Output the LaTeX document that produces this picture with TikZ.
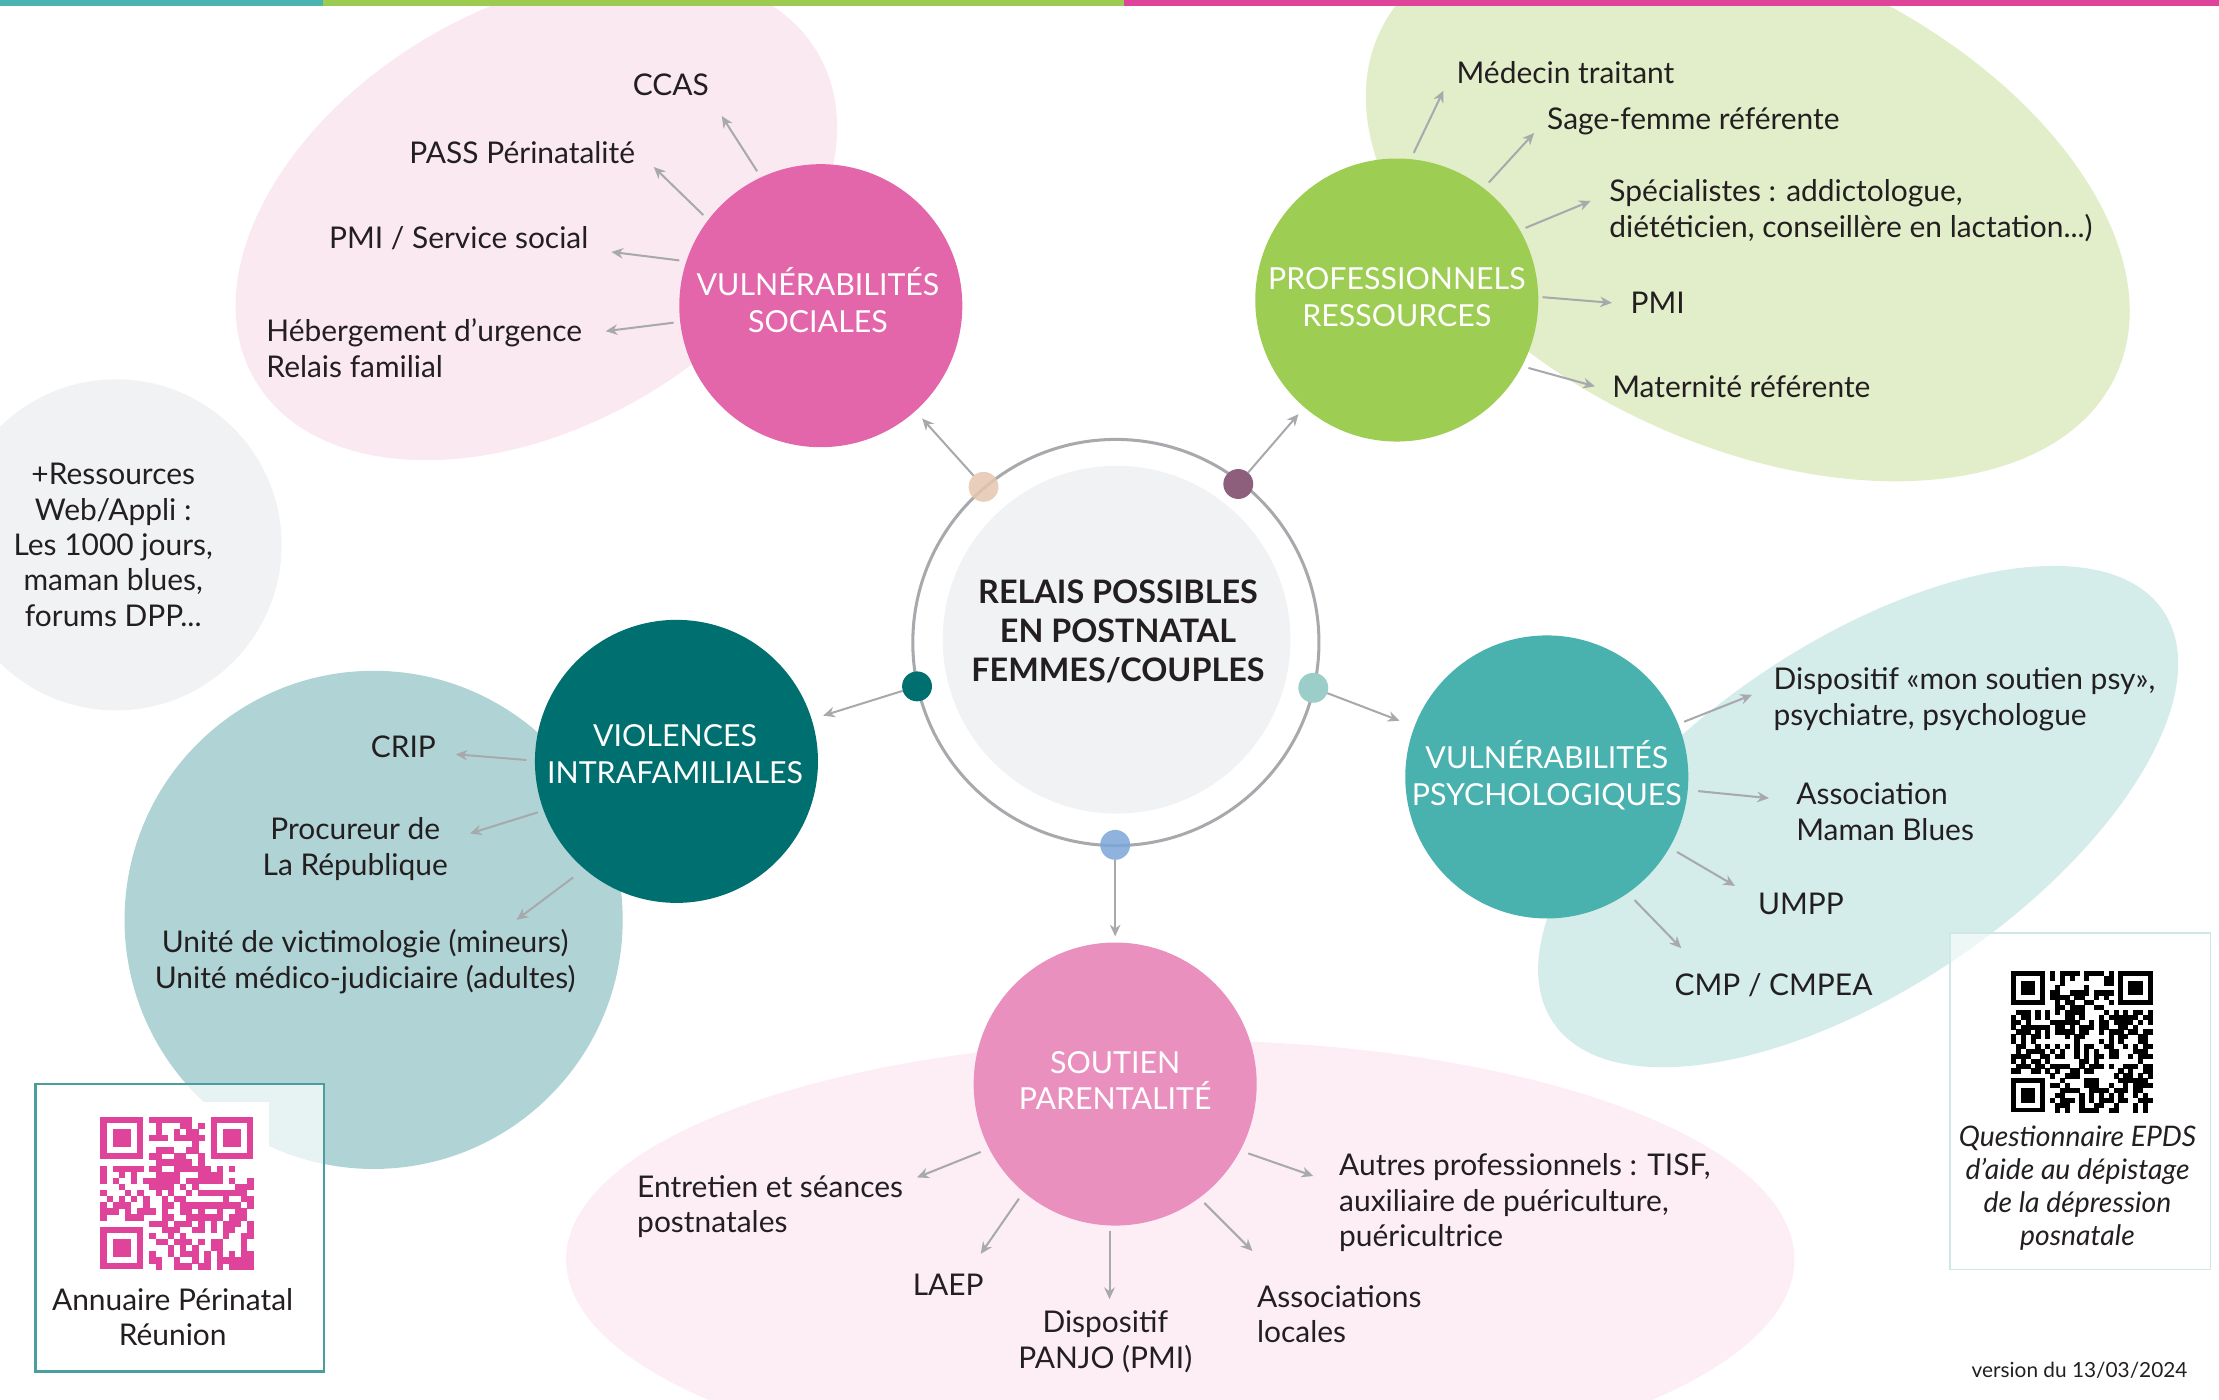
\documentclass[tikz,border=0pt]{standalone}
\usepackage{fontspec}
\setmainfont{Lato}
\usetikzlibrary{arrows.meta}
\definecolor{txt}{HTML}{231F20}
\definecolor{barteal}{HTML}{4BB3B0}
\definecolor{bargreen}{HTML}{9DCB52}
\definecolor{barpink}{HTML}{E0449A}
\definecolor{csoc}{HTML}{E466AA}
\definecolor{cprof}{HTML}{9DCD52}
\definecolor{cviol}{HTML}{006F70}
\definecolor{cpsy}{HTML}{4AB2AE}
\definecolor{csout}{HTML}{E990BE}
\definecolor{blobsoc}{HTML}{FBE9F1}
\definecolor{blobprof}{HTML}{E1EEC9}
\definecolor{blobgrey}{HTML}{F1F2F3}
\definecolor{blobviol}{HTML}{B0D4D5}
\definecolor{blobpsy}{HTML}{D4ECEA}
\definecolor{blobsout}{HTML}{FDEEF5}
\definecolor{ringgrey}{HTML}{A7A9AC}
\definecolor{innergrey}{HTML}{F1F2F4}
\definecolor{dpeach}{HTML}{E5C6B0}
\definecolor{dpurple}{HTML}{8E5F7C}
\definecolor{dlteal}{HTML}{9BCDC9}
\definecolor{dblue}{HTML}{7BA6D8}
\definecolor{qrborder}{HTML}{4B9E9E}
\definecolor{qrborderb}{HTML}{CDE8E6}
\newcommand\myqr[6]{%
  \begin{scope}[shift={(#1,#2)}]
    \pgfmathsetseed{#6}
    \pgfmathtruncatemacro\qrmax{#4-1}
    \pgfmathtruncatemacro\qrlim{#4-9}
    \pgfmathtruncatemacro\qrf{#4-7}
    \foreach \i in {0,...,\qrmax}{
      \foreach \j in {0,...,\qrmax}{
        \pgfmathtruncatemacro\qrskip{((\i<8)&&(\j<8))||((\i>\qrlim)&&(\j<8))||((\i<8)&&(\j>\qrlim))}
        \pgfmathrandominteger{\qrr}{0}{99}
        \ifnum\qrskip=0 \ifnum\qrr<52
          \fill[#5] ({\i*#3},{\j*#3}) rectangle ++({#3+0.2},{#3+0.2});
        \fi\fi
      }
    }
    \foreach \cx/\cy in {0/0,\qrf/0,0/\qrf}{
      \fill[#5] ({\cx*#3},{\cy*#3}) rectangle ++({7*#3},{7*#3});
      \fill[white] ({(\cx+1)*#3},{(\cy+1)*#3}) rectangle ++({5*#3},{5*#3});
      \fill[#5] ({(\cx+2)*#3},{(\cy+2)*#3}) rectangle ++({3*#3},{3*#3});
    }
  \end{scope}}
\tikzset{
  lbl/.style={text=txt, font=\fontsize{14.8}{17.5}\selectfont, align=left, inner sep=0pt},
  clbl/.style={lbl, align=center},
  circ/.style={circle, minimum size=140pt, inner sep=0pt, outer sep=0pt},
  circtext/.style={text=white, align=center, inner sep=0pt, font=\fontsize{15}{18.2}\selectfont},
  dotn/.style={circle, minimum size=14.8pt, inner sep=0pt, outer sep=0pt},
  arr/.style={draw=ringgrey, line width=1pt, -{Stealth[length=5.8pt,width=5.2pt]}},
}
\begin{document}
\begin{tikzpicture}[x=0.7pt,y=-0.7pt]
\useasboundingbox (0,0) rectangle (1568,989);
\begin{scope}
  \clip (0,0) rectangle (1568,989);
  \fill[blobsoc, rotate around={30:(379,153)}] (379,153) ellipse [x radius=230, y radius=148];
  \fill[blobprof, rotate around={-25:(1235,144)}] (1235,144) ellipse [x radius=287, y radius=170];
  \fill[blobgrey] (82,385) circle [radius=117];
  \fill[blobviol] (264,650) circle [radius=176];
  \fill[blobpsy, rotate around={34:(1313,577)}] (1313,577) ellipse [x radius=260, y radius=122];
  \fill[blobsout] (834,890) ellipse [x radius=434, y radius=155];
\end{scope}
% top bar
\fill[barteal] (0,0) rectangle (228,4);
\fill[bargreen] (228,0) rectangle (794,4);
\fill[barpink] (794,0) rectangle (1568,4);

% central ring
\draw[ringgrey, line width=1.5pt] (788.5,454) circle [radius=143.5];
\node[circle, fill=innergrey, minimum size=172pt, inner sep=0pt] (ctr) at (789,452) {};
\node[text=txt, align=center, font=\fontsize{16}{19.2}\selectfont\bfseries, inner sep=0pt] (ctrtxt) at (790,446)
  {RELAIS POSSIBLES\\EN POSTNATAL\\FEMMES/COUPLES};

% dots
\node[dotn, fill=dpeach, fill opacity=0.85] (dP) at (695,344) {};
\node[dotn, fill=dpurple] (dU) at (875,342) {};
\node[dotn, fill=cviol] (dT) at (648,485) {};
\node[dotn, fill=dlteal] (dL) at (928,486) {};
\node[dotn, fill=dblue, fill opacity=0.85] (dB) at (788,597) {};

% main circles
\node[circ, fill=csoc] (soc) at (580,216) {};
\node[circ, fill=cprof] (prof) at (987,212) {};
\node[circ, fill=cviol] (viol) at (478,538) {};
\node[circ, fill=cpsy] (psy) at (1093,549) {};
\node[circ, fill=csout] (sout) at (788,766) {};
\node[circtext] (soct) at (578,212) {VULNÉRABILITÉS\\SOCIALES};
\node[circtext] (proft) at (987,210) {PROFESSIONNELS\\RESSOURCES};
\node[circtext] (violt) at (477,533) {VIOLENCES\\INTRAFAMILIALES};
\node[circtext] (psyt) at (1093,548) {VULNÉRABILITÉS\\PSYCHOLOGIQUES};
\node[circtext] (soutt) at (788,763.5) {SOUTIEN\\PARENTALITÉ};

% arrows from centre dots
\draw[arr, shorten >=5pt] (dP) -- (soc);
\draw[arr, shorten >=4.5pt] (dU) -- (prof);
\draw[arr, shorten >=6pt] (dT) -- (viol);
\draw[arr, shorten >=8pt] (dL) -- (psy);
\draw[arr, shorten >=3pt] (dB) -- (sout);

% grey resources circle
\node[clbl] (res) at (80,385) {+Ressources\\Web/Appli :\\Les 1000 jours,\\maman blues,\\forums DPP...};

% social labels
\node[clbl] (ccas) at (474,60) {CCAS};
\node[lbl, anchor=east] (pass) at (449,108) {PASS Périnatalité};
\node[lbl, anchor=east] (pmis) at (416,168) {PMI / Service social};
\node[lbl, anchor=west] (heb) at (188,246) {Hébergement d’urgence\\Relais familial};
\coordinate (s1a) at (535,121); \coordinate (s1b) at (510,82);
\coordinate (s2a) at (497,152); \coordinate (s2b) at (462,118);
\coordinate (s3a) at (480,184); \coordinate (s3b) at (432,178);
\coordinate (s4a) at (476,228); \coordinate (s4b) at (428,234);
\draw[arr] (s1a) -- (s1b);
\draw[arr] (s2a) -- (s2b);
\draw[arr] (s3a) -- (s3b);
\draw[arr] (s4a) -- (s4b);

% professionnels labels
\node[lbl, anchor=west] (med) at (1029,51) {Médecin traitant};
\node[lbl, anchor=west] (sage) at (1093,86) {Sage-femme référente};
\node[lbl, anchor=west] (spec) at (1137,149) {Spécialistes : addictologue,\\diététicien, conseillère en lactation...)};
\node[lbl, anchor=west] (pmip) at (1152,214) {PMI};
\node[lbl, anchor=west] (mat) at (1139,273) {Maternité référente};
\coordinate (p1a) at (999,108); \coordinate (p1b) at (1020,64);
\coordinate (p2a) at (1052,129); \coordinate (p2b) at (1084,94);
\coordinate (p3a) at (1078,161); \coordinate (p3b) at (1124,142);
\coordinate (p4a) at (1090,210); \coordinate (p4b) at (1139,214);
\coordinate (p5a) at (1080,260); \coordinate (p5b) at (1127,273);
\draw[arr] (p1a) -- (p1b);
\draw[arr] (p2a) -- (p2b);
\draw[arr] (p3a) -- (p3b);
\draw[arr] (p4a) -- (p4b);
\draw[arr] (p5a) -- (p5b);

% violences labels
\node[clbl] (crip) at (285,528) {CRIP};
\node[clbl] (proc) at (251,600) {Procureur de\\La République};
\node[clbl] (unite) at (258,679.5) {Unité de victimologie (mineurs)\\Unité médico-judiciaire (adultes)};
\coordinate (v1a) at (372,537); \coordinate (v1b) at (322,533);
\coordinate (v2a) at (380,574); \coordinate (v2b) at (332,589);
\coordinate (v3a) at (405,620); \coordinate (v3b) at (365,650);
\draw[arr] (v1a) -- (v1b);
\draw[arr] (v2a) -- (v2b);
\draw[arr] (v3a) -- (v3b);

% psycho labels
\node[lbl, anchor=west] (disp) at (1253,494) {Dispositif «mon soutien psy»,\\psychiatre, psychologue};
\node[lbl, anchor=west] (assoc) at (1269,573.5) {Association\\Maman Blues};
\node[lbl, anchor=west] (umpp) at (1242,639) {UMPP};
\node[lbl, anchor=west] (cmp) at (1183,696) {CMP / CMPEA};
\coordinate (y1a) at (1190,510); \coordinate (y1b) at (1238,491);
\coordinate (y2a) at (1200,559); \coordinate (y2b) at (1250,564);
\coordinate (y3a) at (1185,602); \coordinate (y3b) at (1226,626);
\coordinate (y4a) at (1155,636); \coordinate (y4b) at (1188,670);
\draw[arr] (y1a) -- (y1b);
\draw[arr] (y2a) -- (y2b);
\draw[arr] (y3a) -- (y3b);
\draw[arr] (y4a) -- (y4b);

% soutien labels
\node[lbl, anchor=west] (entr) at (450,852.5) {Entretien et séances\\postnatales};
\node[clbl] (laep) at (670,908) {LAEP};
\node[clbl] (panjo) at (781,948) {Dispositif\\PANJO (PMI)};
\node[lbl, anchor=west] (assl) at (888,928.5) {Associations\\locales};
\node[lbl, anchor=west] (autres) at (946,850) {Autres professionnels : TISF,\\auxiliaire de puériculture,\\puéricultrice};
\coordinate (t1a) at (693,814); \coordinate (t1b) at (648,832);
\coordinate (t2a) at (720,847); \coordinate (t2b) at (693,886);
\coordinate (t3a) at (784,870); \coordinate (t3b) at (784,918);
\coordinate (t4a) at (851,850); \coordinate (t4b) at (885,884);
\coordinate (t5a) at (882,815); \coordinate (t5b) at (928,831);
\draw[arr] (t1a) -- (t1b);
\draw[arr] (t2a) -- (t2b);
\draw[arr] (t3a) -- (t3b);
\draw[arr] (t4a) -- (t4b);
\draw[arr] (t5a) -- (t5b);

% left QR box
\draw[qrborder, line width=1.4pt, fill=white, fill opacity=0.7] (25,766) rectangle (229,969);
\fill[white] (61,779) rectangle (190,905);
\myqr{71}{789}{4.32}{25}{barpink}{4711}
\node[clbl] (annu) at (122,930.5) {Annuaire Périnatal\\Réunion};

% right QR box
\draw[qrborderb, line width=0.9pt, fill=white, fill opacity=0.6] (1378,659) rectangle (1562,897);
\myqr{1421}{686}{3.45}{29}{black}{2024}
\node[clbl, font=\fontsize{14}{16.2}\selectfont\itshape] (epds) at (1468,839.5)
  {Questionnaire EPDS\\d’aide au dépistage\\de la dépression\\posnatale};

\node[lbl, anchor=east, font=\fontsize{10.3}{12}\selectfont] (vers) at (1546,968) {version du 13/03/2024};
\end{tikzpicture}
\end{document}
